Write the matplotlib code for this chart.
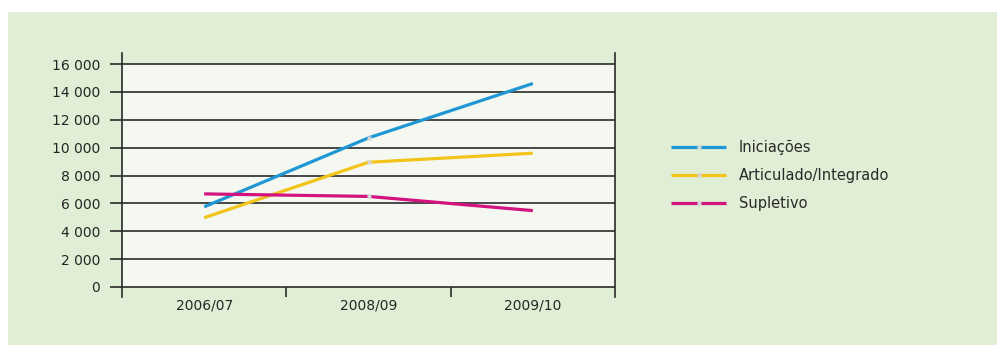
import matplotlib
matplotlib.use("Agg")
import matplotlib.pyplot as plt
from matplotlib.patches import Rectangle

categories = ["2006/07", "2008/09", "2009/10"]
iniciacoes = [5750, 10700, 14600]
articulado = [4970, 8950, 9600]
supletivo = [6680, 6500, 5480]
series_names = ["Iniciações", "Articulado/Integrado", "Supletivo"]
series_colors = ["#1f97d4", "#f2c41a", "#d3137f"]
yticks = [0, 2000, 4000, 6000, 8000, 10000, 12000, 14000, 16000]
ytick_labels = ["0", "2 000", "4 000", "6 000", "8 000", "10 000", "12 000", "14 000", "16 000"]

plt.rcParams['font.family'] = ['DejaVu Sans']
W, H = 997, 345
fig = plt.figure(figsize=(W/100, H/100), dpi=100)
fig.patch.set_facecolor("white")
bg = "#e0eed5"
fig.patches.append(Rectangle((8/W, 0), 1 - 8/W, (H-12)/H, transform=fig.transFigure,
                             facecolor=bg, edgecolor="none", zorder=-10))

ax = fig.add_axes([122/W, (H-297)/H, (615-122)/W, (297-53)/H])
ax.set_facecolor("none")
ymax_px_per = 16000 / (287 - 64)
ybot = -(297 - 287) * ymax_px_per
ytop = 16000 + (64 - 53) * ymax_px_per
ax.set_ylim(ybot, ytop)
ax.set_xlim(-0.5, 2.5)
x = list(range(len(categories)))
ax.axhspan(0, 16000, xmin=0, xmax=1, facecolor="#f4f8f1", edgecolor="none", zorder=0)
for yv in yticks:
    ax.axhline(yv, color="#2a2a2a", lw=1.2, zorder=1)
ax.vlines([0.5, 1.5], ybot, 0, color="#2a2a2a", lw=1.2, zorder=1)

for vals, name, col in zip([iniciacoes, articulado, supletivo], series_names, series_colors):
    ax.plot(x, vals, color=col, lw=2.3, label=name, zorder=3, solid_capstyle="butt",
            marker="s", markevery=[1], markersize=3.5, markerfacecolor="#d4d4d4",
            markeredgecolor="none")

for s in ["top", "bottom"]:
    ax.spines[s].set_visible(False)
for s in ["left", "right"]:
    ax.spines[s].set_color("#2a2a2a")
    ax.spines[s].set_linewidth(1.2)

fs = 10
ax.set_yticks(yticks)
ax.set_yticklabels(ytick_labels)
ax.tick_params(axis="y", length=8.6, width=1.2, color="#2a2a2a", pad=7,
               labelsize=fs, labelcolor="#262626")
ax.set_xticks(x)
ax.set_xticklabels(categories)
ax.tick_params(axis="x", length=0, pad=1, labelsize=fs, labelcolor="#262626")

handles, labels = ax.get_legend_handles_labels()
fsl = 10.5
px = fsl * 100 / 72
leg = fig.legend(handles, labels, loc="upper left", bbox_to_anchor=(658/W, (H-127)/H),
                 frameon=False, prop={"size": fsl},
                 handlelength=55/px, handletextpad=13/px,
                 labelspacing=0.9, labelcolor="#2a2a2a")

fig.savefig("out.png", dpi=100, facecolor=fig.get_facecolor())
